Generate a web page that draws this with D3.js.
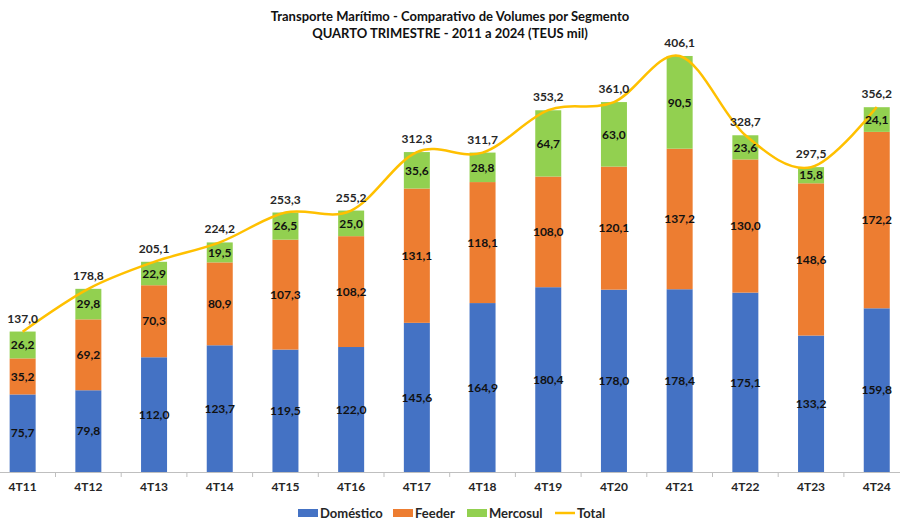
<!DOCTYPE html>
<html><head><meta charset="utf-8">
<script src="https://cdn.jsdelivr.net/npm/d3@7"></script>
<style>body{margin:0;background:#fff}svg{display:block}text{font-family:Lato,"Open Sans",sans-serif;font-weight:bold}</style>
</head><body><svg id="c" width="900" height="530"></svg>
<script>
const categories = ["4T11","4T12","4T13","4T14","4T15","4T16","4T17","4T18","4T19","4T20","4T21","4T22","4T23","4T24"];
const domestico = [75.7,79.8,112.0,123.7,119.5,122.0,145.6,164.9,180.4,178.0,178.4,175.1,133.2,159.8];
const feeder = [35.2,69.2,70.3,80.9,107.3,108.2,131.1,118.1,108.0,120.1,137.2,130.0,148.6,172.2];
const mercosul = [26.2,29.8,22.9,19.5,26.5,25.0,35.6,28.8,64.7,63.0,90.5,23.6,15.8,24.1];
const total = [137.0,178.8,205.1,224.2,253.3,255.2,312.3,311.7,353.2,361.0,406.1,328.7,297.5,356.2];
const seriesNames = ["Doméstico","Feeder","Mercosul"];
const colors = ["#4472C4","#ED7D31","#92D050"];
const lineColor = "#FFC000";
const fmt = v => v.toFixed(1).replace(".", ",");

const svg = d3.select("#c");
const x = d3.scaleBand().domain(categories).range([-10.2, 909.6]).padding(0);
const barW = 26;
const y = d3.scaleLinear().domain([0, 450]).range([472, 11]);

const rows = categories.map((c,i)=>({cat:c, "Doméstico":domestico[i], "Feeder":feeder[i], "Mercosul":mercosul[i]}));
const stack = d3.stack().keys(seriesNames)(rows);

const cx = c => x(c) + x.bandwidth()/2;

stack.forEach((s,si)=>{
  const g = svg.append("g");
  g.selectAll("rect").data(s).join("rect")
    .attr("x", d => cx(d.data.cat) - barW/2)
    .attr("width", barW)
    .attr("y", d => y(d[1]))
    .attr("height", d => y(d[0]) - y(d[1]))
    .attr("fill", colors[si]);
});

// axis
const ax = svg.append("g").attr("transform","translate(0,472)").call(d3.axisBottom(x).tickSize(0).tickFormat(d=>d));
ax.select(".domain").attr("stroke","#bfbfbf");
ax.selectAll("text").attr("font-size",12).attr("fill","#262626").attr("y",10).attr("dy","0.71em").attr("font-family","Lato, sans-serif").attr("font-weight","bold");
// tick marks at band boundaries
svg.append("g").selectAll("line").data(categories.slice(1)).join("line")
  .attr("x1", d=>x(d)).attr("x2", d=>x(d)).attr("y1",472).attr("y2",477).attr("stroke","#bfbfbf");

// total line
const line = d3.line().x((d,i)=>cx(categories[i])).y(d=>y(d)).curve(d3.curveCardinal.tension(0));
svg.append("path").datum(total).attr("d", line).attr("fill","none").attr("stroke",lineColor).attr("stroke-width",2.5);

// segment labels
stack.forEach((s,si)=>{
  svg.append("g").selectAll("text").data(s).join("text")
    .attr("x", d => cx(d.data.cat))
    .attr("y", d => (y(d[0]) + y(d[1]))/2)
    .attr("dy","0.35em").attr("text-anchor","middle")
    .attr("font-size",12).attr("fill","#111")
    .text(d => fmt(d.data[seriesNames[si]]));
});
// total labels
svg.append("g").selectAll("text").data(total).join("text")
  .attr("x",(d,i)=>cx(categories[i]))
  .attr("y", d => y(d) - 9)
  .attr("text-anchor","middle").attr("font-size",12).attr("fill","#262626")
  .text(d=>fmt(d));

// title
svg.append("text").attr("x",450).attr("y",21).attr("text-anchor","middle").attr("font-size",13).attr("fill","#111").text("Transporte Marítimo - Comparativo de Volumes por Segmento");
svg.append("text").attr("x",450).attr("y",38).attr("text-anchor","middle").attr("font-size",13).attr("fill","#111").text("QUARTO TRIMESTRE - 2011 a 2024 (TEUS mil)");

// legend
const legItems = [
  {name:"Doméstico", color:colors[0], type:"rect", x:298},
  {name:"Feeder", color:colors[1], type:"rect", x:393},
  {name:"Mercosul", color:colors[2], type:"rect", x:467},
  {name:"Total", color:lineColor, type:"line", x:555}
];
const lg = svg.append("g");
legItems.forEach(it=>{
  if(it.type==="rect") lg.append("rect").attr("x",it.x).attr("y",509).attr("width",20).attr("height",8).attr("fill",it.color);
  else lg.append("line").attr("x1",it.x).attr("x2",it.x+20).attr("y1",513).attr("y2",513).attr("stroke",it.color).attr("stroke-width",2.5);
  lg.append("text").attr("x",it.x+22).attr("y",513).attr("dy","0.35em").attr("font-size",13).attr("fill","#262626").text(it.name);
});
</script></body></html>
